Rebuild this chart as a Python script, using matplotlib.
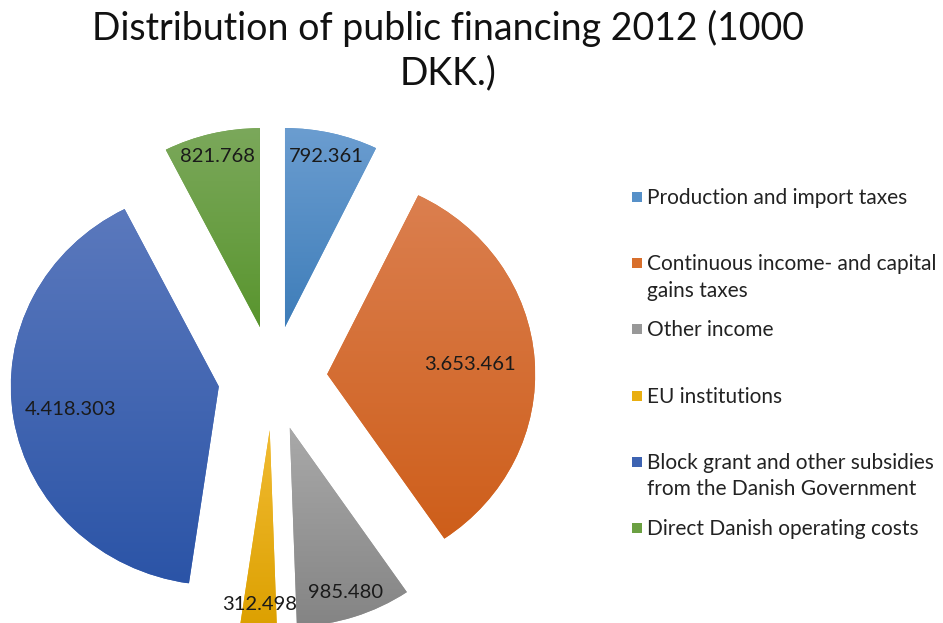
import numpy as np
import matplotlib
matplotlib.use("Agg")
import matplotlib.pyplot as plt
from matplotlib.colors import LinearSegmentedColormap
from matplotlib.patches import Rectangle

# ---------------- data ----------------
title = "Distribution of public financing 2012 (1000\nDKK.)"
categories = [
    "Production and import taxes",
    "Continuous income- and capital\ngains taxes",
    "Other income",
    "EU institutions",
    "Block grant and other subsidies\nfrom the Danish Government",
    "Direct Danish operating costs",
]
values = [792361, 3653461, 985480, 312498, 4418303, 821768]

# ---------------- style ----------------
top_colors = ["#6B9DD0", "#DB7F4F", "#A9A9A9", "#F1BB32", "#5B79BD", "#7BA85B"]
bot_colors = ["#3E7DB9", "#CE5E1A", "#848484", "#DCA000", "#2B54A7", "#59952E"]
flat_colors = ["#5690C8", "#D86F2C", "#989898", "#E9AE10", "#3D63B2", "#6BA042"]
label_frac = [0.88, 0.69, 0.87, 0.875, 0.72, 0.88]
FONT = "Lato"

W, H = 943, 623
fig = plt.figure(figsize=(W / 100, H / 100), dpi=100)
ax = fig.add_axes([0, 0, 1, 1])

# pixel geometry of pie (center px, scale px/unit)
cx_px, cy_px, sx, sy = 272.7, 378.0, 208.0, 199.0
explode = [0.2626] * len(values)

wedges, _ = ax.pie(values, startangle=90, counterclock=False, radius=1.0,
                   explode=explode, wedgeprops=dict(linewidth=0))
ax.set_aspect("auto")

for i, w in enumerate(wedges):
    ext = w.get_path().get_extents()
    cmap = LinearSegmentedColormap.from_list(f"g{i}", [bot_colors[i], top_colors[i]])
    grad = np.linspace(0, 1, 256).reshape(-1, 1)
    im = ax.imshow(grad, cmap=cmap, origin="lower", aspect="auto",
                   extent=(ext.x0, ext.x1, ext.y0, ext.y1),
                   interpolation="bilinear", zorder=2)
    im.set_clip_path(w)
    w.set_facecolor(flat_colors[i])
    # value label along bisector
    mid = np.deg2rad((w.theta1 + w.theta2) / 2.0)
    lx = w.center[0] + label_frac[i] * w.r * np.cos(mid)
    ly = w.center[1] + label_frac[i] * w.r * np.sin(mid)
    ax.text(lx, ly, f"{values[i]:,}".replace(",", "."), ha="center", va="center",
            fontsize=14.5, family=FONT, color="#1a1a1a", zorder=5)

ax.set_aspect("auto")
ax.set_xlim(-cx_px / sx, (W - cx_px) / sx)
ax.set_ylim(-(H - cy_px) / sy, cy_px / sy)
ax.axis("off")

# title
fig.text(448 / W, 1 - 10 / H, title, ha="center", va="top", fontsize=27,
         family=FONT, color="#111111", linespacing=1.27)

# legend (manual, Excel-like)
first_line_y = 197
slot = 66.2
line_pitch = 26.5
for i, lab in enumerate(categories):
    yc = first_line_y + i * slot
    fig.patches.append(Rectangle((632 / W, 1 - (yc + 5) / H), 10 / W, 10 / H,
                                 transform=fig.transFigure, facecolor=flat_colors[i],
                                 edgecolor="none"))
    for j, line in enumerate(lab.split("\n")):
        yb = yc + j * line_pitch + 7
        fig.text(647 / W, 1 - yb / H, line, ha="left", va="baseline",
                 fontsize=15.0, family=FONT, color="#222222")

fig.savefig("out.png", dpi=100)
